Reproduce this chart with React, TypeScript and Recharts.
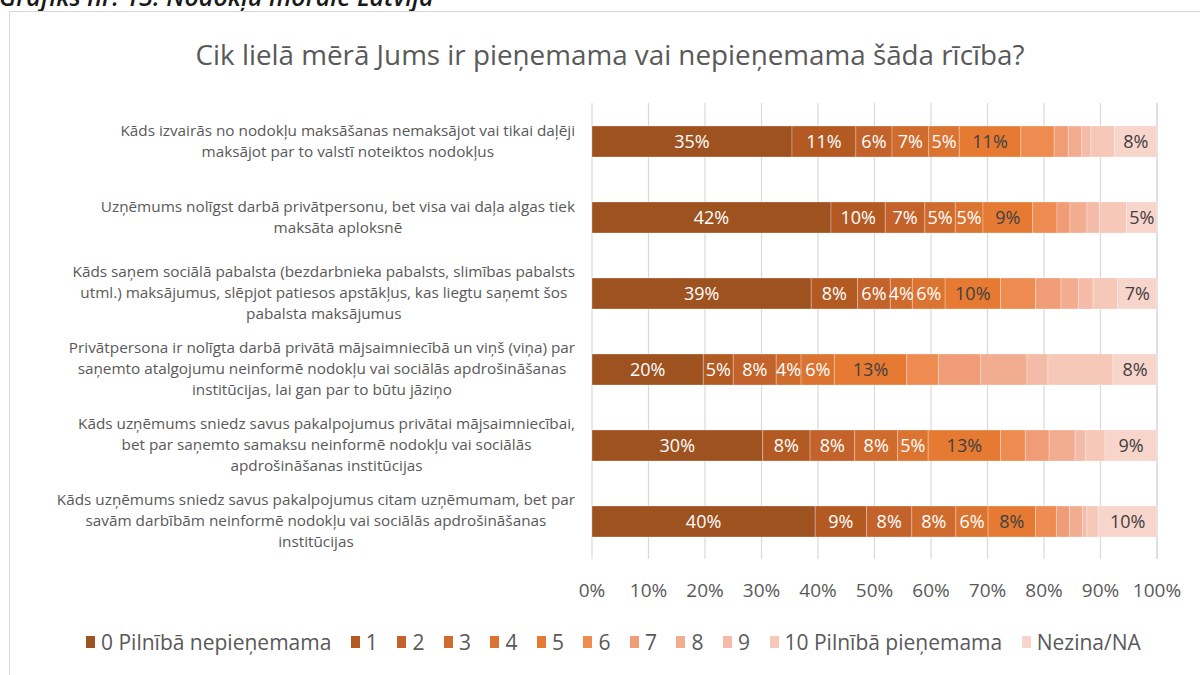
import React from 'react';
import { BarChart, Bar, XAxis, YAxis, CartesianGrid, LabelList } from 'recharts';

// Question texts, split into lines as in the original
const categories = [
  'Kāds izvairās no nodokļu maksāšanas nemaksājot vai tikai daļēji\nmaksājot par to valstī noteiktos nodokļus',
  'Uzņēmums nolīgst darbā privātpersonu, bet visa vai daļa algas tiek\nmaksāta aploksnē',
  'Kāds saņem sociālā pabalsta (bezdarbnieka pabalsts, slimības pabalsts\nutml.) maksājumus, slēpjot patiesos apstākļus, kas liegtu saņemt šos\npabalsta maksājumus',
  'Privātpersona ir nolīgta darbā privātā mājsaimniecībā un viņš (viņa) par\nsaņemto atalgojumu neinformē nodokļu vai sociālās apdrošināšanas\ninstitūcijas, lai gan par to būtu jāziņo',
  'Kāds uzņēmums sniedz savus pakalpojumus privātai mājsaimniecībai,\nbet par saņemto samaksu neinformē nodokļu vai sociālās\napdrošināšanas institūcijas',
  'Kāds uzņēmums sniedz savus pakalpojumus citam uzņēmumam, bet par\nsavām darbībām neinformē nodokļu vai sociālās apdrošināšanas\ninstitūcijas',
];

const seriesNames = [
  '0 Pilnībā nepieņemama', '1', '2', '3', '4', '5', '6', '7', '8', '9',
  '10 Pilnībā pieņemama', 'Nezina/NA',
];

// shares (%) per question, in order 0..10, Nezina/NA
const row1 = [35.4, 11.3, 6.4, 6.5, 5.4, 10.9, 5.9, 2.5, 2.4, 1.6, 4.2, 7.5];
const row2 = [42.3, 9.6, 7.0, 5.4, 4.9, 8.8, 4.3, 2.3, 3.0, 2.2, 4.8, 5.4];
const row3 = [38.8, 8.2, 5.8, 3.9, 5.8, 9.8, 6.2, 4.5, 3.1, 2.6, 4.3, 7.0];
const row4 = [19.7, 5.3, 7.6, 4.4, 5.9, 12.8, 5.6, 7.5, 8.2, 3.7, 11.5, 7.8];
const row5 = [30.2, 8.4, 7.9, 7.6, 5.4, 12.8, 4.4, 4.2, 4.6, 1.9, 3.4, 9.2];
const row6 = [39.5, 9.1, 8.0, 7.8, 5.7, 8.4, 3.7, 2.3, 2.3, 0.8, 2.0, 10.4];
const rows = [row1, row2, row3, row4, row5, row6];

const xTicks = [0, 10, 20, 30, 40, 50, 60, 70, 80, 90, 100];

const COLORS = [
  '#9e521f', '#b35a23', '#c3622a', '#d06b2e', '#db7331', '#e67a33',
  '#ee8b50', '#f09d77', '#f2ad91', '#f4bca8', '#f6c8b8', '#f8d5cb',
];

// only these segments carry a value label in the original
const LABELLED = [0, 1, 2, 3, 4, 5, 11];
const TEXT = '#595959';
const FONT = '"Open Sans", Lato, sans-serif';

const data = categories.map((c, i) => {
  const d: any = { name: c };
  rows[i].forEach((v, k) => (d['s' + k] = v));
  return d;
});

let ctx: CanvasRenderingContext2D | null = null;
function measure(text: string, font: string) {
  if (!ctx) ctx = document.createElement('canvas').getContext('2d');
  if (!ctx) return text.length * 7;
  ctx.font = font;
  return ctx.measureText(text).width;
}

function CategoryTick(props: any) {
  const { x, y, payload } = props;
  const lines: string[] = String(payload.value).split('\n');
  const fs = 15.3;
  const lh = 21;
  const widest = Math.max(...lines.map((l) => measure(l, `${fs}px "Open Sans"`)));
  const cx = x - widest / 2;
  const y0 = y - ((lines.length - 1) * lh) / 2;
  return (
    <text x={cx} y={y0} textAnchor="middle" fill={TEXT} fontSize={fs} fontFamily={FONT}>
      {lines.map((l, i) => (
        <tspan key={i} x={cx} y={y0 + i * lh} dy="0.35em">
          {l}
        </tspan>
      ))}
    </text>
  );
}

function makeLabel(k: number) {
  return (props: any) => {
    const { x, y, width, height, value } = props;
    if (!LABELLED.includes(k) || value == null) return null;
    return (
      <text
        x={x + width / 2}
        y={y + height / 2}
        dy="0.35em"
        textAnchor="middle"
        fill={k < 5 ? '#ffffff' : '#404040'}
        fontSize={18}
        fontFamily={FONT}
      >
        {`${Math.round(value)}%`}
      </text>
    );
  };
}

export default function App() {
  return (
    <div style={{ position: 'fixed', left: 0, top: 0, width: 1200, height: 675, background: '#fff', overflow: 'hidden', fontFamily: FONT }}>
      <div style={{ position: 'absolute', left: -1, top: -21, fontSize: 25, fontStyle: 'italic', fontWeight: 600, color: '#1a1a1a', whiteSpace: 'nowrap', fontFamily: FONT }}>
        Grafiks nr. 13. Nodokļu morāle Latvijā
      </div>
      <div style={{ position: 'absolute', left: 9, top: 11, width: 1250, height: 720, border: '1px solid #d9d9d9' }} />
      <div style={{ position: 'absolute', left: 0, width: 1220, top: 35, textAlign: 'center', fontSize: 27.8, color: TEXT, whiteSpace: 'nowrap' }}>
        Cik lielā mērā Jums ir pieņemama vai nepieņemama šāda rīcība?
      </div>
      <div style={{ position: 'absolute', left: 0, top: 0 }}>
        <BarChart
          width={1200}
          height={675}
          data={data}
          layout="vertical"
          margin={{ top: 103, right: 43, left: 0, bottom: 86 }}
          barSize={31}
        >
          <CartesianGrid horizontal={false} stroke="#d9d9d9" strokeWidth={1.2} />
          <XAxis
            type="number"
            domain={[0, 100]}
            ticks={xTicks}
            interval={0}
            tickFormatter={(v) => `${v}%`}
            axisLine={false}
            tickLine={false}
            tickMargin={19}
            height={30}
            tick={{ fontSize: 19, fill: TEXT, fontFamily: FONT }}
          />
          <YAxis
            type="category"
            dataKey="name"
            width={592}
            axisLine={false}
            tickLine={false}
            tickSize={0}
            tickMargin={17}
            tick={<CategoryTick />}
          />
          {seriesNames.map((s, k) => (
            <Bar
              key={s}
              dataKey={'s' + k}
              name={s}
              stackId="a"
              fill={COLORS[k]}
              stroke="#ffffff"
              strokeOpacity={0.35}
              strokeWidth={0.8}
              isAnimationActive={false}
            >
              <LabelList dataKey={'s' + k} content={makeLabel(k)} />
            </Bar>
          ))}
        </BarChart>
      </div>
      <div style={{ position: 'absolute', left: 86, top: 628, display: 'flex', alignItems: 'center', whiteSpace: 'nowrap' }}>
        {seriesNames.map((s, k) => (
          <div key={s} style={{ display: 'flex', alignItems: 'center', marginRight: 19.5 }}>
            <span style={{ display: 'inline-block', width: 9, height: 12, background: COLORS[k], marginRight: 6 }} />
            <span style={{ fontSize: 21, color: TEXT }}>{s}</span>
          </div>
        ))}
      </div>
    </div>
  );
}
